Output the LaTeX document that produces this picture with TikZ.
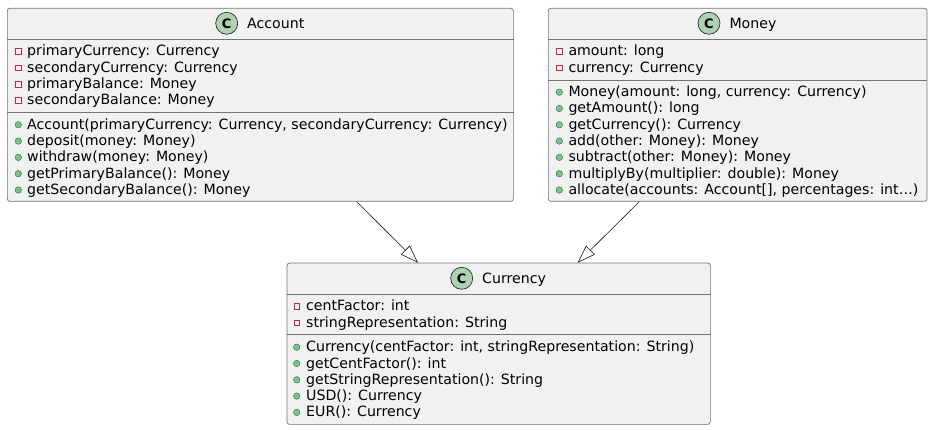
\documentclass[tikz,border=0pt]{standalone}
\usepackage{fontspec}
\setmainfont{DejaVu Sans}
\usepackage{xcolor}
\usepackage{tikz}
\usetikzlibrary{positioning, arrows.meta}

\definecolor{boxfill}{HTML}{F1F1F1}
\definecolor{boxline}{HTML}{181818}
\definecolor{spotfill}{HTML}{ADD1B2}
\definecolor{privred}{HTML}{C82930}
\definecolor{pubfill}{HTML}{84BE84}
\definecolor{publine}{HTML}{038048}

\tikzset{
  classbox/.style={draw=boxline!60, fill=boxfill, line width=0.7pt, rounded corners=2.5pt, anchor=north west, inner sep=0pt},
  divider/.style={draw=boxline!60, line width=0.7pt},
  spot/.style={circle, draw=boxline, fill=spotfill, line width=0.6pt, minimum size=22pt, inner sep=0pt, font=\bfseries\fontsize{13}{13}\selectfont},
  title/.style={anchor=west, inner sep=0pt, text height=10pt, text depth=0pt, font=\fontsize{14.15}{16}\selectfont},
  member/.style={anchor=base west, inner sep=0pt, font=\fontsize{14.15}{16}\selectfont},
  priv/.style={draw=privred, line width=0.6pt, minimum size=5.5pt, inner sep=0pt},
  pub/.style={circle, draw=publine, fill=pubfill, line width=0.4pt, minimum size=6.5pt, inner sep=0pt},
  extends/.style={draw=boxline, line width=0.6pt, -{Triangle[open, length=18pt, width=12.5pt]}}
}

\begin{document}
\begin{tikzpicture}[x=1pt, y=-1pt]
    \useasboundingbox (0,0) rectangle (932,430);

    % class boxes
    \node[classbox, minimum width=506pt, minimum height=193pt] (account) at (7,8) {};
    \node[classbox, minimum width=378.7pt, minimum height=193pt] (money) at (548,8) {};
    \node[classbox, minimum width=423.3pt, minimum height=161.3pt] (currency) at (286.7,262.7) {};

    % compartments
    \draw[divider] (account.west |- 0,39) -- (account.east |- 0,39);
    \draw[divider] (account.west |- 0,112.7) -- (account.east |- 0,112.7);
    \draw[divider] (money.west |- 0,39) -- (money.east |- 0,39);
    \draw[divider] (money.west |- 0,80) -- (money.east |- 0,80);
    \draw[divider] (currency.west |- 0,294.3) -- (currency.east |- 0,294.3);
    \draw[divider] (currency.west |- 0,334.3) -- (currency.east |- 0,334.3);

    % headers
    \node[spot] (account-c) at (226.7,23.3) {C};
    \node[title, right=9pt of account-c] (account-t) {Account};
    \node[spot] (money-c) at (709,23.3) {C};
    \node[title, right=9pt of money-c] (money-t) {Money};
    \node[spot] (currency-c) at (461.7,278.3) {C};
    \node[title, right=9pt of currency-c] (currency-t) {Currency};

    % Account
    \foreach \txt [count=\i] in {primaryCurrency: Currency, secondaryCurrency: Currency,
                                 primaryBalance: Money, secondaryBalance: Money} {
        \node[priv] (account-pv\i) at (18.3, {51.5+16.3*(\i-1)}) {};
        \node[member] (account-a\i) at (27, {56+16.3*(\i-1)}) {\txt};
    }
    \foreach \txt [count=\i] in {{Account(primaryCurrency: Currency, secondaryCurrency: Currency)},
                                 deposit(money: Money), withdraw(money: Money),
                                 getPrimaryBalance(): Money, getSecondaryBalance(): Money} {
        \node[pub] (account-pb\i) at (18.3, {124.8+16.3*(\i-1)}) {};
        \node[member] (account-m\i) at (27, {129.3+16.3*(\i-1)}) {\txt};
    }

    % Money
    \foreach \txt [count=\i] in {amount: long, currency: Currency} {
        \node[priv] (money-pv\i) at (559.3, {51.5+16.3*(\i-1)}) {};
        \node[member] (money-a\i) at (568.3, {56+16.3*(\i-1)}) {\txt};
    }
    \foreach \txt [count=\i] in {{Money(amount: long, currency: Currency)},
                                 getAmount(): long, getCurrency(): Currency,
                                 add(other: Money): Money, subtract(other: Money): Money,
                                 multiplyBy(multiplier: double): Money,
                                 {allocate(accounts: Account[], percentages: int…)}} {
        \node[pub] (money-pb\i) at (559.3, {92.2+16.3*(\i-1)}) {};
        \node[member] (money-m\i) at (568.3, {96.7+16.3*(\i-1)}) {\txt};
    }

    % Currency
    \foreach \txt [count=\i] in {centFactor: int, stringRepresentation: String} {
        \node[priv] (currency-pv\i) at (296.7, {306.5+16.3*(\i-1)}) {};
        \node[member] (currency-a\i) at (306, {311+16.3*(\i-1)}) {\txt};
    }
    \foreach \txt [count=\i] in {{Currency(centFactor: int, stringRepresentation: String)},
                                 getCentFactor(): int, getStringRepresentation(): String,
                                 USD(): Currency, EUR(): Currency} {
        \node[pub] (currency-pb\i) at (296.7, {347.2+16.3*(\i-1)}) {};
        \node[member] (currency-m\i) at (306, {351.7+16.3*(\i-1)}) {\txt};
    }

    % generalisations
    \draw[extends] (account.south -| 356.7,0) -- (currency.north -| 418,0);
    \draw[extends] (money.south -| 639.3,0) -- (currency.north -| 577.7,0);
\end{tikzpicture}
\end{document}
